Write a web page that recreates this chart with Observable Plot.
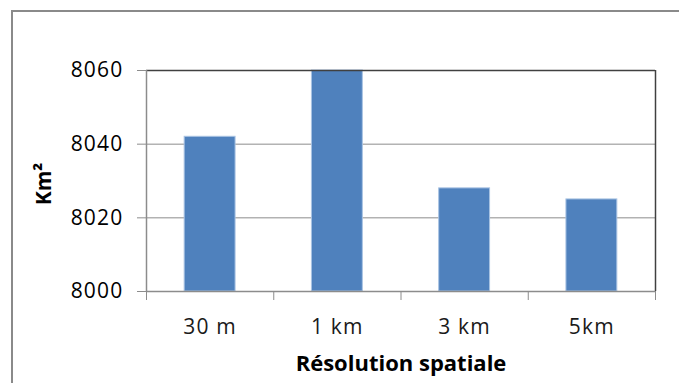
<!DOCTYPE html>
<html><head><meta charset="utf-8">
<script src="https://cdn.jsdelivr.net/npm/d3@7"></script>
<script src="https://cdn.jsdelivr.net/npm/@observablehq/plot@0.6"></script>
<style>
html,body{margin:0;padding:0;background:#fff;}
#wrap{position:relative;width:679px;height:383px;overflow:hidden;background:#fff;}
#frame{position:absolute;left:11px;top:10px;width:720px;height:420px;border-left:2px solid #8a8a8a;border-top:2px solid #8a8a8a;}
#wrap svg{position:absolute;left:0;top:0;}
#wrap svg g[aria-label$="tick label"] text{letter-spacing:1.2px;}
</style></head><body><div id="wrap"><div id="frame"></div></div>
<script>
const categories = ["30 m", "1 km", "3 km", "5km"];
const values = [8042, 8060, 8028, 8025];
const yTicks = [8000, 8020, 8040, 8060];
const xTitle = "Résolution spatiale";
const yTitle = "Km²";

const data = categories.map((c, i) => ({c, i, v: values[i]}));
const n = categories.length;
const font = "'Open Sans', sans-serif";
const yMin = yTicks[0], yMax = yTicks[yTicks.length - 1];

const chart = Plot.plot({
  width: 679, height: 383,
  marginLeft: 146, marginRight: 24, marginTop: 70, marginBottom: 92,
  style: {fontFamily: font, background: "transparent", overflow: "visible", color: "#000"},
  x: {domain: [0, n], axis: null, label: null},
  y: {domain: [yMin, yMax], axis: null, label: null},
  marks: [
    Plot.ruleY(yTicks.slice(1, -1), {stroke: "#8c8c8c", strokeWidth: 1}),
    Plot.rectY(data, {x1: d => d.i + 0.3, x2: d => d.i + 0.7, y1: yMin, y2: "v", fill: "#4f81bd", stroke: "#a9c3e3", strokeWidth: 1}),
    Plot.ruleY([yMax], {stroke: "#404040", strokeWidth: 1.5}),
    Plot.ruleX([n], {y1: yMin, y2: yMax, stroke: "#404040", strokeWidth: 1.5}),
    Plot.ruleX([0], {y1: yMin, y2: yMax, stroke: "#8c8c8c", strokeWidth: 1.5}),
    Plot.ruleY([yMin], {stroke: "#8c8c8c", strokeWidth: 1.5}),
    Plot.axisY({ticks: yTicks, tickSize: 9, tickPadding: 14, tickFormat: d => String(d), fontSize: 21, stroke: "#8c8c8c", fill: "#000", label: null}),
    Plot.axisX({ticks: d3.range(0, n + 1), tickSize: 9, tickFormat: () => "", stroke: "#8c8c8c", label: null}),
    Plot.axisX({ticks: categories.map((c, i) => i + 0.5), tickSize: 0, tickPadding: 28, tickFormat: t => categories[Math.floor(t)], fontSize: 21, fill: "#1a1a1a", label: null}),
    Plot.text([xTitle], {frameAnchor: "bottom", dy: 79, fontSize: 22, fontWeight: "bold", fill: "#000"}),
    Plot.text([yTitle], {frameAnchor: "left", textAnchor: "middle", dx: -102, dy: 3, rotate: -90, fontSize: 21, fontWeight: "bold", fill: "#000"})
  ]
});
document.getElementById("wrap").appendChild(chart);
</script>
</body></html>
